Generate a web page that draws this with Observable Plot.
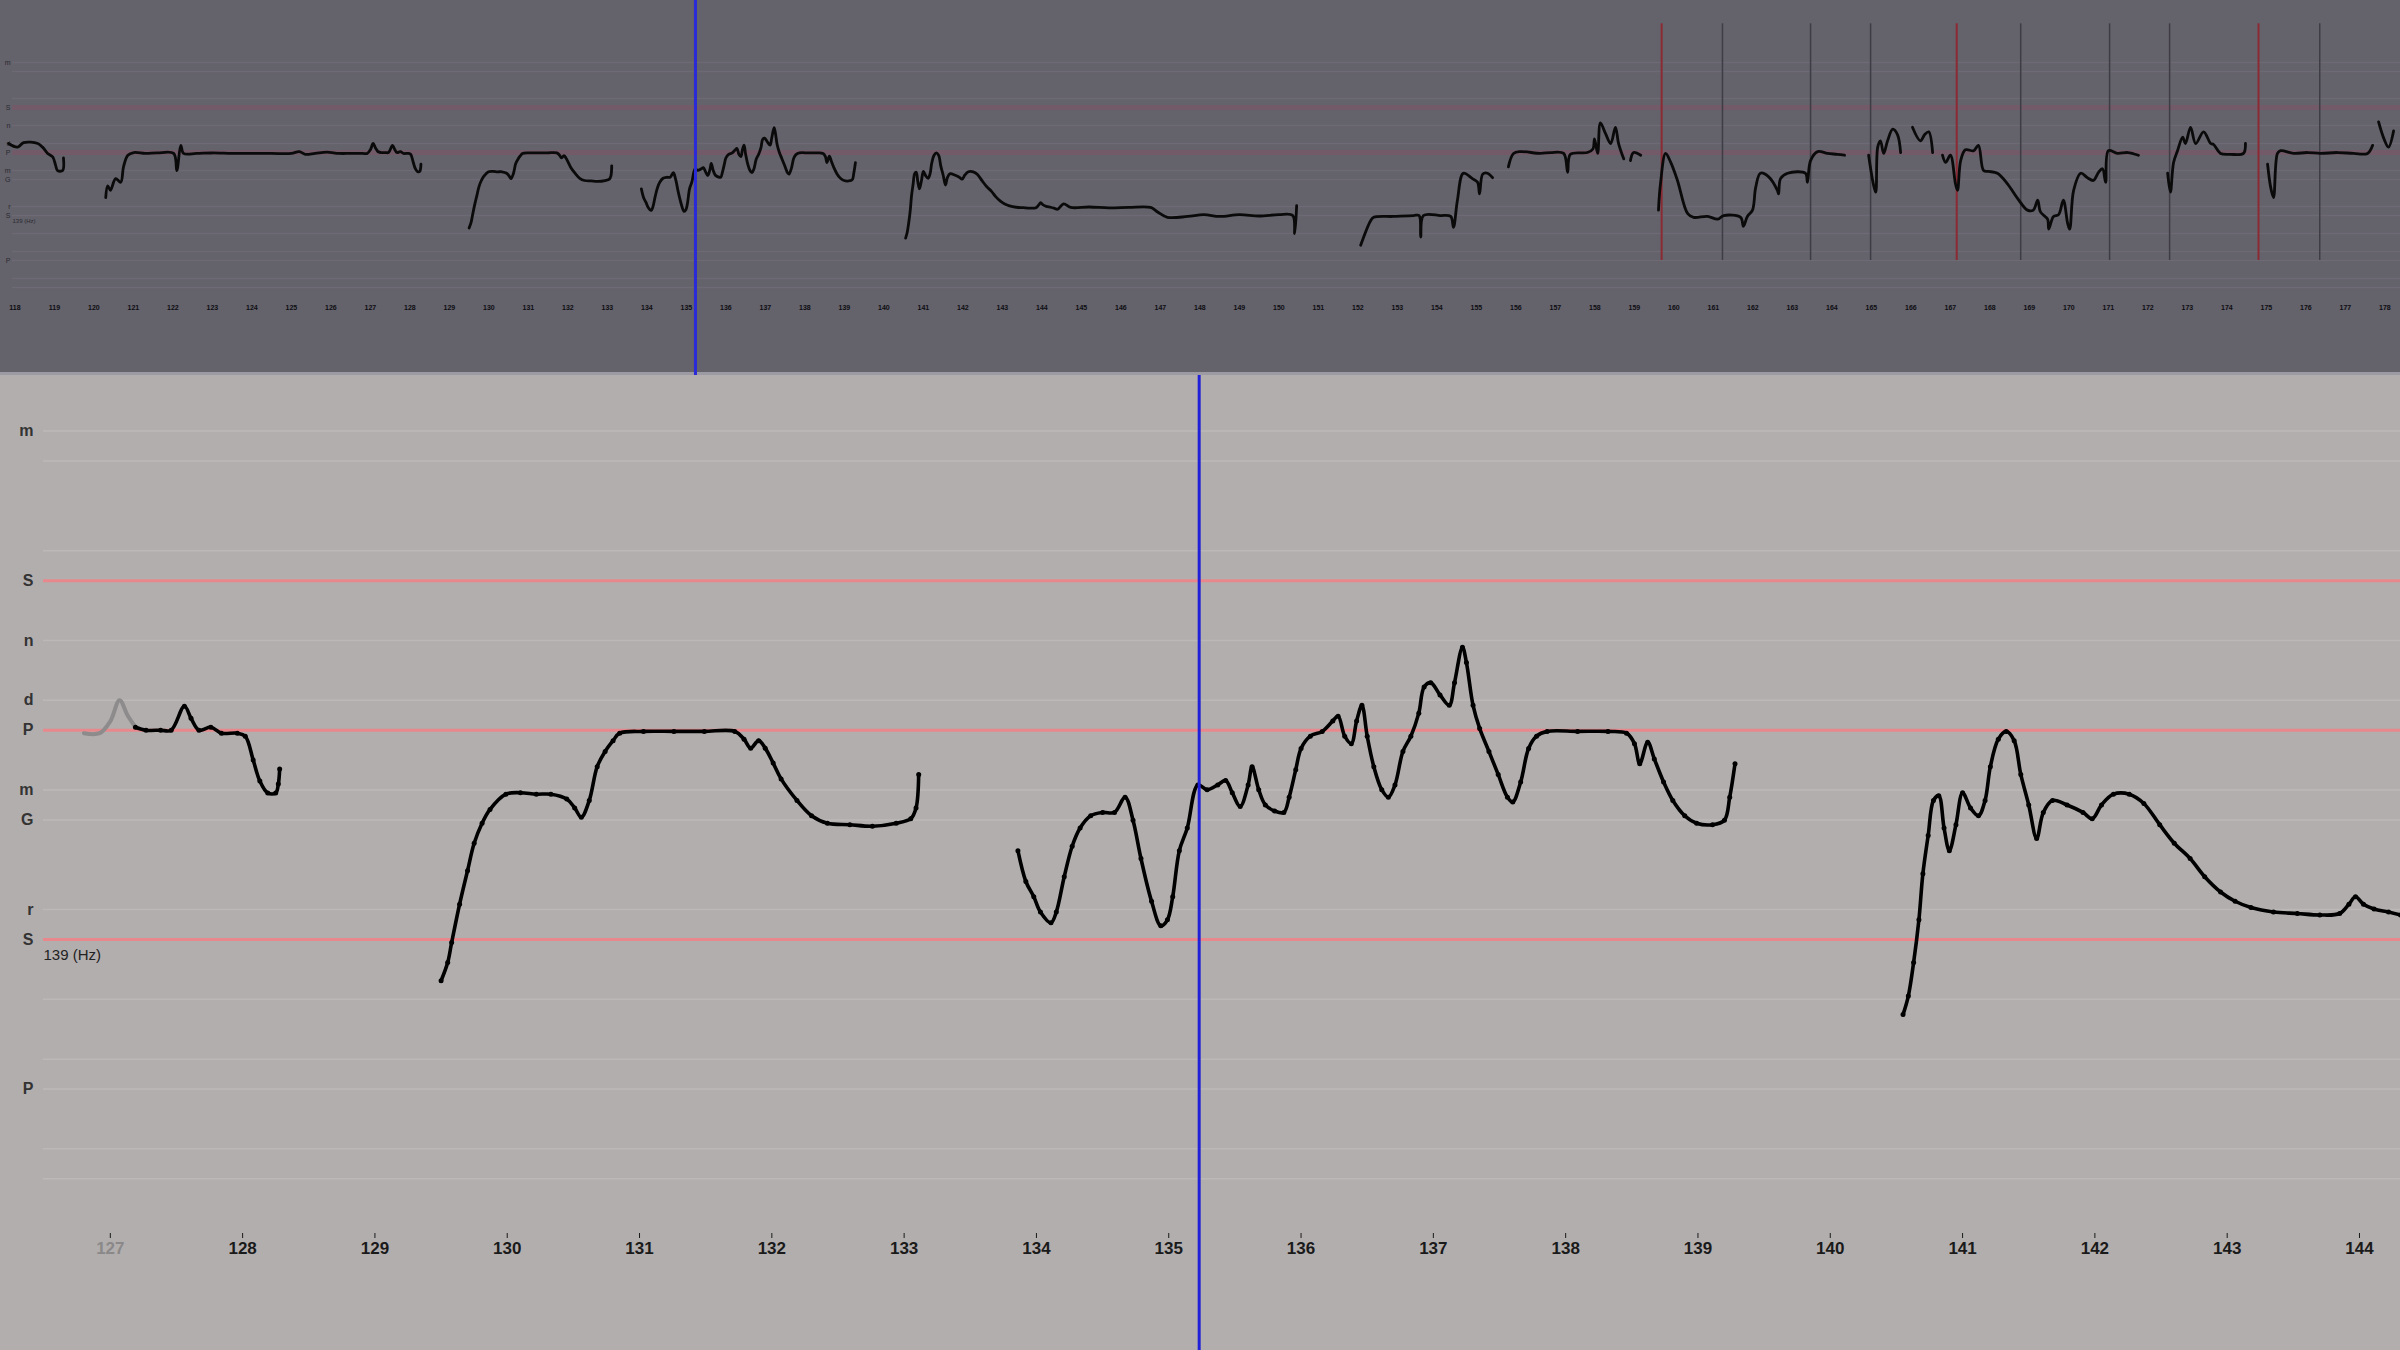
<!DOCTYPE html>
<html><head><meta charset="utf-8">
<script src="https://cdn.jsdelivr.net/npm/d3@7"></script>
<script src="https://cdn.jsdelivr.net/npm/@observablehq/plot@0.6"></script>
<style>
html,body{margin:0;padding:0;background:#b2aeae;width:2400px;height:1350px;overflow:hidden}
#chart svg{display:block}
#topwrap{border-bottom:3px solid #9c9aa2}
</style></head><body><div id="chart"><div id="topwrap"></div><div id="botwrap"></div></div>
<script>
// ---- data: time (s), pitch in semitones above tonic Sa (139 Hz) ----
const tonicLabel = "139 (Hz)";
const playhead = 135.23;
const swaraSemis = [17, 12, 10, 8, 7, 5, 4, 1, 0, -5];
const swaraNames = ["m", "S", "n", "d", "P", "m", "G", "r", "S", "P"];
const gridSemis = [-8, -7, -5, -4, -2, 0, 1, 4, 5, 7, 8, 10, 12, 13, 16, 17];
const redSemisBottom = [0, 7, 12];
const redSemisTop = [7, 12];
const xTicksBottom = [127,128,129,130,131,132,133,134,135,136,137,138,139,140,141,142,143,144];
const xTicksTop = d3.range(118, 179);
const samTimes = [159.69, 167.16, 174.80];
const beatTimes = [161.23, 163.46, 164.98, 168.78, 171.03, 172.55, 176.35];

const phraseA = [[117.84,8],[118.07,7.6],[118.22,8.1],[118.58,8.0],[118.70,7.6],[118.83,6.9],[118.96,6.5],[119.03,5.6],[119.08,5.0],[119.21,5.0],[119.23,6.4]];
const phraseB = [[120.30,2.0],[120.35,3.3],[120.42,2.8],[120.55,4.1],[120.68,3.7],[120.75,5.4],[120.86,6.7],[121.01,7.0],[121.3,6.9],[121.6,6.95],[122.02,6.9],[122.10,5.0],[122.20,7.8],[122.27,6.9],[122.6,6.9],[123.0,6.95],[123.5,6.9],[124.0,6.9],[124.5,6.9],[125.0,6.9],[125.2,7.1],[125.35,6.8],[125.6,6.9],[125.9,7.05],[126.2,6.9],[126.5,6.9]];
const phrase1Faint = [[126.80,6.9],[126.92,6.9],[127.00,7.3],[127.07,8.0],[127.13,7.5],[127.19,7.1]];
const phrase1 = [[127.19,7.1],[127.27,7.0],[127.38,7.0],[127.46,7.0],[127.56,7.8],[127.61,7.4],[127.67,7.0],[127.76,7.1],[127.84,6.9],[127.96,6.9],[128.02,6.8],[128.08,6.0],[128.13,5.3],[128.19,4.9],[128.25,4.9],[128.27,5.2],[128.28,5.7]];
const phrase2 = [[129.50,-1.38],[129.55,-0.77],[129.58,-0.1],[129.64,1.18],[129.70,2.3],[129.75,3.22],[129.81,3.89],[129.87,4.35],[129.99,4.86],[130.10,4.91],[130.22,4.86],[130.33,4.86],[130.45,4.7],[130.51,4.4],[130.56,4.09],[130.62,4.65],[130.68,5.78],[130.74,6.29],[130.80,6.65],[130.85,6.9],[131.03,6.96],[131.26,6.96],[131.49,6.96],[131.72,6.96],[131.79,6.7],[131.84,6.4],[131.90,6.65],[131.95,6.4],[132.01,5.9],[132.07,5.37],[132.19,4.65],[132.30,4.14],[132.42,3.89],[132.59,3.84],[132.76,3.79],[132.94,3.89],[133.05,4.04],[133.09,4.4],[133.11,5.52]];
const phrase3 = [[133.86,2.97],[133.92,1.94],[133.98,1.43],[134.03,0.92],[134.11,0.56],[134.15,0.92],[134.21,2.1],[134.27,3.12],[134.33,3.73],[134.41,4.14],[134.50,4.25],[134.59,4.25],[134.67,4.76],[134.73,3.99],[134.79,2.71],[134.87,1.28],[134.94,0.46],[134.99,0.66],[135.03,1.43],[135.08,2.97],[135.14,3.73],[135.22,5.17],[135.29,5.01],[135.37,5.17],[135.43,5.32],[135.48,4.91],[135.54,4.45],[135.60,5.17],[135.63,5.78],[135.68,5.01],[135.73,4.5],[135.80,4.3],[135.87,4.25],[135.91,4.76],[135.96,5.68],[136.00,6.39],[136.07,6.8],[136.16,6.96],[136.24,7.31],[136.28,7.47],[136.33,6.8],[136.38,6.55],[136.42,7.31],[136.46,7.83],[136.50,6.8],[136.55,5.78],[136.61,5.01],[136.66,4.76],[136.71,5.17],[136.77,6.29],[136.83,6.8],[136.89,7.57],[136.93,8.44],[136.98,8.59],[137.05,8.18],[137.12,7.83],[137.16,8.59],[137.22,9.77],[137.25,9.26],[137.30,7.83],[137.35,7.06],[137.42,6.29],[137.49,5.52],[137.56,4.76],[137.60,4.6],[137.66,5.27],[137.72,6.39],[137.78,6.8],[137.86,6.96],[138.09,6.96],[138.32,6.96],[138.46,6.9],[138.52,6.55],[138.56,5.88],[138.62,6.6],[138.67,6.04],[138.74,5.27],[138.81,4.65],[138.90,4.14],[138.99,3.89],[139.11,3.84],[139.20,3.99],[139.24,4.76],[139.28,5.88]];
const phrase4 = [[140.55,-2.51],[140.59,-1.89],[140.63,-0.77],[140.67,0.66],[140.70,2.2],[140.74,3.48],[140.78,4.65],[140.82,4.81],[140.86,3.73],[140.90,2.97],[140.95,3.84],[141.00,4.91],[141.06,4.4],[141.12,4.14],[141.17,4.65],[141.21,5.78],[141.27,6.7],[141.33,6.96],[141.39,6.65],[141.44,5.52],[141.50,4.5],[141.56,3.38],[141.61,4.25],[141.68,4.65],[141.79,4.5],[141.91,4.25],[141.98,4.04],[142.05,4.5],[142.14,4.86],[142.26,4.86],[142.37,4.55],[142.49,3.84],[142.60,3.22],[142.72,2.71],[142.83,2.1],[142.95,1.59],[143.06,1.28],[143.18,1.07],[143.35,0.92],[143.53,0.87],[143.70,0.82],[143.85,0.87],[143.92,1.18],[143.97,1.43],[144.03,1.18],[144.11,1.02],[144.22,0.92],[144.31,0.82]];
const phrase4Tail = [[144.40,0.7],[144.55,1.3],[144.73,0.9],[145.2,0.95],[145.7,0.85],[146.2,0.9],[146.75,0.9],[146.93,0.4],[147.18,-0.2],[147.69,-0.1],[148.1,0.1],[148.5,-0.1],[149.0,0.1],[149.5,-0.05],[150.0,0.1],[150.35,0.0],[150.40,-2.0],[150.45,1.1]];
const phraseF = [[152.07,-3.3],[152.32,-0.6],[152.40,-0.2],[152.9,-0.1],[153.41,0],[153.55,0],[153.59,-2.4],[153.66,0],[154.09,0],[154.35,-0.1],[154.42,-1.3],[154.52,1.7],[154.67,4.7],[154.90,4.1],[155.03,3.7],[155.08,2.4],[155.16,4.6],[155.28,4.7],[155.41,4.2]];
const phraseG = [[155.81,5.4],[155.94,6.9],[156.12,7.1],[156.62,6.9],[156.88,7.0],[157.21,6.9],[157.31,4.8],[157.38,6.8],[157.81,7.0],[157.95,7.4],[157.99,8.5],[158.07,6.9],[158.14,10.3],[158.27,9.1],[158.40,8.0],[158.52,9.8],[158.60,8.0],[158.73,6.3]];
const phraseG2 = [[158.90,6.1],[158.98,7.0],[159.16,6.7]];
const phraseH = [[159.61,0.6],[159.66,3.5],[159.79,6.9],[159.92,5.9],[160.09,3.9],[160.35,0.2],[160.50,-0.2],[160.85,-0.1],[161.11,-0.4],[161.26,0],[161.69,-0.2],[161.76,-1.2],[161.86,-0.1],[161.99,0.6],[162.07,3.1],[162.19,4.7],[162.40,4.3],[162.62,2.8],[162.65,2.4],[162.70,4.1],[162.88,4.7],[163.33,4.7],[163.38,3.7],[163.46,6.1],[163.64,7.1],[163.89,6.9],[164.14,6.8],[164.32,6.7]];
const phraseI1 = [[164.93,6.7],[165.05,3.5],[165.11,2.6],[165.16,7.6],[165.23,8.3],[165.31,6.9],[165.41,8.3],[165.54,9.6],[165.66,9.0],[165.74,7.0]];
const phraseI2 = [[166.04,9.8],[166.24,8.3],[166.35,9.0],[166.45,9.3],[166.55,7.0]];
const phraseI3 = [[166.80,6.7],[166.88,5.9],[167.00,6.7],[167.13,3.5],[167.18,2.8],[167.26,6.1],[167.38,7.3],[167.59,7.2],[167.71,7.8],[167.84,5.0],[167.97,4.9],[168.19,4.7],[168.45,3.5],[168.70,1.9],[168.95,0.6],[169.10,0.6],[169.21,1.7],[169.28,0.4],[169.46,-0.4],[169.49,-1.5],[169.61,-0.1],[169.74,0.1],[169.86,1.7],[169.97,-0.9],[170.02,-1.5],[170.12,2.8],[170.30,4.7],[170.47,4.2],[170.62,3.9],[170.75,4.8],[170.85,5.2],[170.93,3.7],[171.00,7.2],[171.23,6.9],[171.49,7.0],[171.76,6.7]];
const phraseJ = [[172.50,4.7],[172.57,2.6],[172.65,5.9],[172.75,7.2],[172.88,8.7],[172.95,8.0],[173.08,9.8],[173.21,8.0],[173.41,9.3],[173.59,8.0],[173.66,7.9],[173.84,6.9],[174.09,6.8],[174.42,6.9],[174.47,8.0]];
const phraseK = [[175.03,5.7],[175.11,3.1],[175.18,2.0],[175.28,6.9],[175.36,7.2],[175.69,6.9],[176.04,7.0],[176.37,6.9],[176.80,7.0],[177.21,6.9],[177.56,6.9],[177.69,7.8]];
const phraseL = [[177.84,10.4],[177.97,8.6],[178.09,7.6],[178.22,9.4]];

// ---- build ----
const px = d => d[0], py = d => d[1];
const swaraFmt = s => swaraNames[swaraSemis.indexOf(s)];
const font = "Liberation Sans, Arial, sans-serif";

const topPhrases = [phraseA, phraseB.concat(phrase1Faint, phrase1), phrase2, phrase3, phrase4.concat(phrase4Tail),
  phraseF, phraseG, phraseG2, phraseH, phraseI1, phraseI2, phraseI3, phraseJ, phraseK, phraseL];

const topPlot = Plot.plot({
  width: 2400, height: 372, marginTop: 0, marginBottom: 72, marginLeft: 12, marginRight: 0,
  style: {background: "#64626b", color: "#1e1e22", fontFamily: font, overflow: "visible"},
  x: {domain: [117.94, 178.395]},
  y: {domain: [-9.44, 23.89]},
  marks: [
    Plot.ruleY(gridSemis, {stroke: "#6c6a74", strokeWidth: 1.5}),
    Plot.ruleY(redSemisTop, {stroke: "#725a68", strokeWidth: 5}),
    Plot.ruleX(beatTimes, {y1: 21.3, y2: -5, stroke: "#3e3c45", strokeWidth: 1.5}),
    Plot.ruleX(samTimes, {y1: 21.3, y2: -5, stroke: "#8c2a33", strokeWidth: 2}),
    Plot.axisY({ticks: swaraSemis, tickFormat: swaraFmt, tickSize: 0, tickPadding: 2, fontSize: 7, fill: "#2a2a30", label: null}),
    Plot.text([tonicLabel], {x: 117.94, y: 0, dy: 6, textAnchor: "start", fontSize: 6, fill: "#2a2a30"}),
    Plot.axisX({ticks: xTicksTop, tickFormat: d => String(d), tickSize: 0, tickPadding: 5, fontSize: 7, fontWeight: "bold", fill: "#0e0e12", label: null}),
    ...topPhrases.map(p => Plot.line(p, {x: px, y: py, stroke: "#0a0a0a", strokeWidth: 2.8, curve: "catmull-rom"})),
    Plot.ruleX([playhead], {y1: 23.89, y2: -17.78, stroke: "#2a2ad8", strokeWidth: 3})
  ]
});

const bottomPhrases = [phrase1, phrase2, phrase3, phrase4];
const bottomPlot = Plot.plot({
  width: 2400, height: 975, marginTop: 0, marginBottom: 117, marginLeft: 43, marginRight: 0,
  style: {background: "#b2aeae", color: "#1a1a1a", fontFamily: font, overflow: "visible"},
  x: {domain: [126.495, 144.31]},
  y: {domain: [-9.83, 18.86]},
  marks: [
    Plot.ruleY(gridSemis, {stroke: "#bcb8b8", strokeWidth: 1.5}),
    Plot.ruleY(redSemisBottom, {stroke: "#e8888c", strokeWidth: 3}),
    Plot.axisY({ticks: swaraSemis, tickFormat: swaraFmt, tickSize: 0, tickPadding: 10, fontSize: 16, fontWeight: "bold", fill: "#333", label: null}),
    Plot.text([tonicLabel], {x: 126.495, y: 0, dy: 16, textAnchor: "start", fontSize: 15, fill: "#222"}),
    Plot.axisX({ticks: xTicksBottom, tickFormat: d => String(d), tickSize: 5, tickPadding: 3, fontSize: 17, fontWeight: "bold", label: null}),
    Plot.line(phrase1Faint, {x: px, y: py, stroke: "#8d8b8b", strokeWidth: 4, curve: "catmull-rom"}),
    ...bottomPhrases.map(p => Plot.line(p, {x: px, y: py, stroke: "#000", strokeWidth: 3.6, curve: "catmull-rom"})),
    ...bottomPhrases.map(p => Plot.dot(p, {x: px, y: py, r: 2.5, fill: "#000"})),
    Plot.ruleX([playhead], {y1: 18.86, y2: -13.75, stroke: "#2020d8", strokeWidth: 3})
  ]
});
// fade the first tick label like the reference
bottomPlot.querySelectorAll("text").forEach(t => { if (t.textContent === "127") t.setAttribute("fill", "#8a8888"); });

document.getElementById("topwrap").appendChild(topPlot);
document.getElementById("botwrap").appendChild(bottomPlot);
</script></body></html>
